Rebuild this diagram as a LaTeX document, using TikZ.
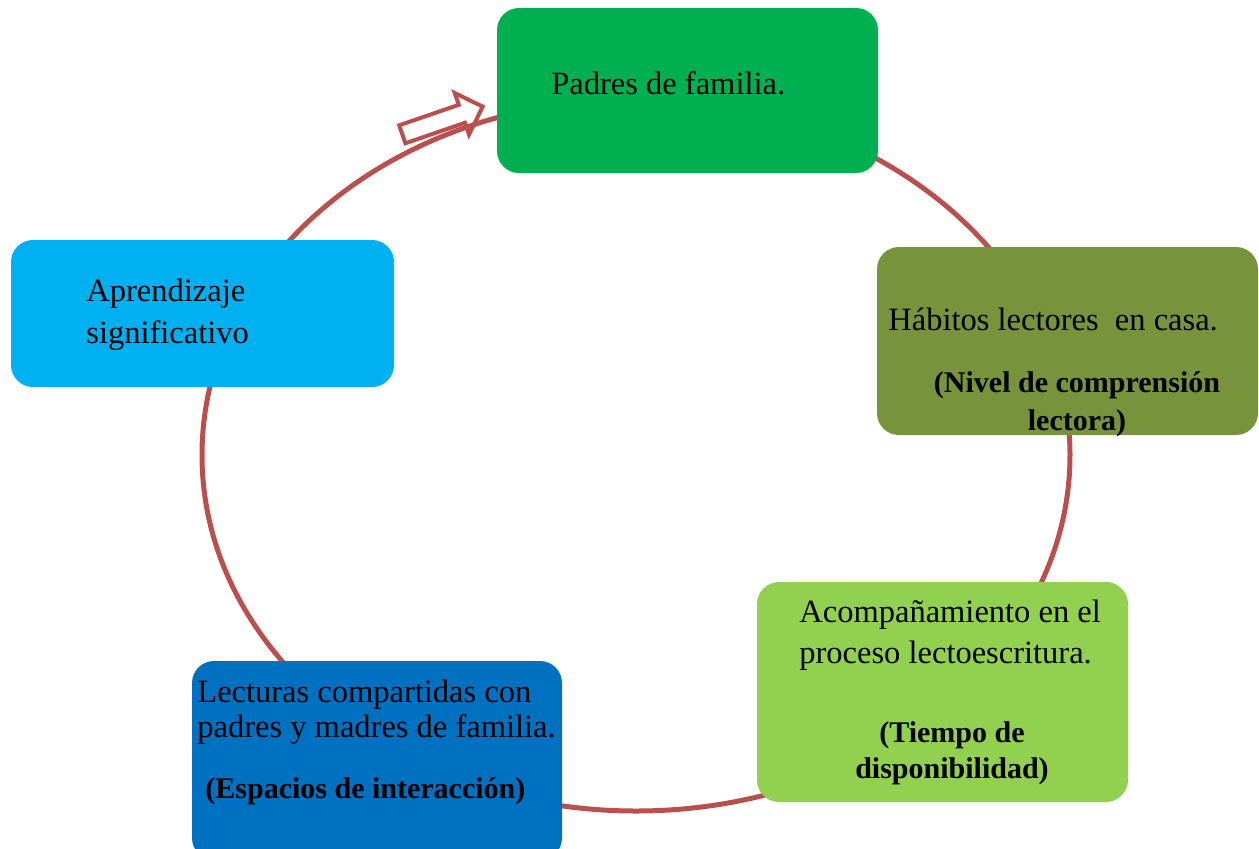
\documentclass[tikz,border=0pt]{standalone}
\usepackage{fontspec}
\setmainfont{Liberation Serif}
\usepackage{tikz}
\usetikzlibrary{shapes.arrows}
\definecolor{cycleline}{RGB}{185,80,77}
\definecolor{padresgreen}{RGB}{0,176,80}
\definecolor{habitosolive}{RGB}{119,147,60}
\definecolor{acompgreen}{RGB}{146,208,80}
\definecolor{lectblue}{RGB}{0,112,192}
\definecolor{aprendblue}{RGB}{0,176,240}
\tikzset{
  box/.style={rounded corners=11pt, inner sep=0pt},
  txt/.style={anchor=base west, inner sep=0pt, font=\fontsize{16.25}{19}\selectfont},
  boldtxt/.style={anchor=base, inner sep=0pt, font=\fontsize{15}{18}\selectfont\bfseries}
}

\begin{document}
\begin{tikzpicture}[x=0.5pt,y=-0.5pt]
        \clip (0,0) rectangle (1259,848);
        \draw[cycleline, line width=2.5pt] (636,455) ellipse [x radius=434, y radius=356];
        \node[draw=cycleline, line width=2pt, shape=single arrow, single arrow head extend=6.25pt,
              inner xsep=0pt, inner ysep=3.75pt, minimum height=42.5pt, rotate=19] (cyclearrow) at (438,122) {};
        %boxes
        \node[box, fill=padresgreen, minimum width=190.5pt, minimum height=82.5pt] (padres) at (687.5,90.5) {};
        \node[box, fill=habitosolive, minimum width=190.5pt, minimum height=94pt] (habitos) at (1067.5,341) {};
        \node[box, fill=acompgreen, minimum width=185.5pt, minimum height=110pt] (acomp) at (942.5,692) {};
        \node[box, fill=lectblue, minimum width=185pt, minimum height=99.5pt] (lecturas) at (377,760.5) {};
        \node[box, fill=aprendblue, minimum width=191.5pt, minimum height=73.5pt] (aprend) at (202.5,313.5) {};
        %texts
        \node[txt] (padrestxt) at (551,94) {Padres de familia.};
        \node[txt] (habitostxt) at (888,330) {Hábitos lectores~ en casa.};
        \node[boldtxt] (habitosbolda) at (1077,392) {(Nivel de comprensión};
        \node[boldtxt] (habitosboldb) at (1077,430) {lectora)};
        \node[txt] (acomptxta) at (799,622) {Acompañamiento en el};
        \node[txt] (acomptxtb) at (799,663) {proceso lectoescritura.};
        \node[boldtxt] (acompbolda) at (952,742) {(Tiempo de};
        \node[boldtxt] (acompboldb) at (952,778) {disponibilidad)};
        \node[txt] (lecturastxta) at (197,702) {Lecturas compartidas con};
        \node[txt] (lecturastxtb) at (197,737) {padres y madres de familia.};
        \node[boldtxt, anchor=base west] (lecturasbold) at (205,798) {(Espacios de interacción)};
        \node[txt] (aprendtxta) at (86,301) {Aprendizaje};
        \node[txt] (aprendtxtb) at (86,343) {significativo};
    \end{tikzpicture}
\end{document}
